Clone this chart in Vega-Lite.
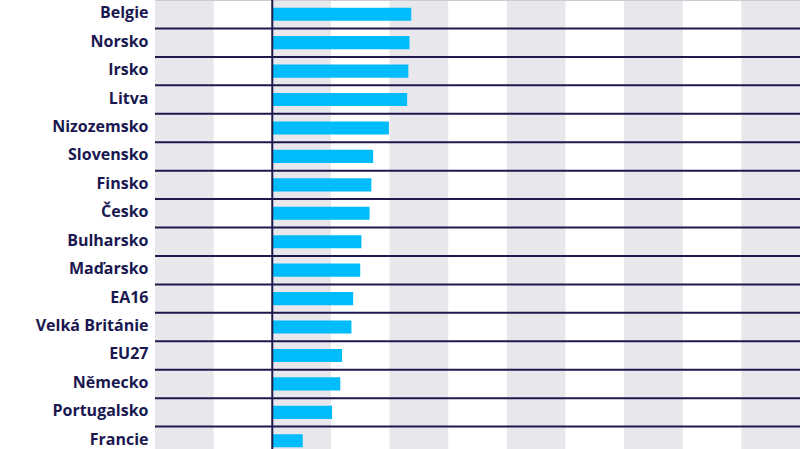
{
  "$schema": "https://vega.github.io/schema/vega-lite/v6.json",
  "width": 645,
  "height": 455,
  "autosize": {"type": "none"},
  "padding": {"left": 155, "top": 0, "right": 0, "bottom": 0},
  "background": "#ffffff",
  "config": {"view": {"stroke": null}},
  "datasets": {
    "bars": [
      {"zeme": "Belgie", "hodnota": 2.37},
      {"zeme": "Norsko", "hodnota": 2.34},
      {"zeme": "Irsko", "hodnota": 2.32},
      {"zeme": "Litva", "hodnota": 2.30},
      {"zeme": "Nizozemsko", "hodnota": 1.99},
      {"zeme": "Slovensko", "hodnota": 1.72},
      {"zeme": "Finsko", "hodnota": 1.69},
      {"zeme": "Česko", "hodnota": 1.66},
      {"zeme": "Bulharsko", "hodnota": 1.52},
      {"zeme": "Maďarsko", "hodnota": 1.50},
      {"zeme": "EA16", "hodnota": 1.38},
      {"zeme": "Velká Británie", "hodnota": 1.35},
      {"zeme": "EU27", "hodnota": 1.19},
      {"zeme": "Německo", "hodnota": 1.16},
      {"zeme": "Portugalsko", "hodnota": 1.02},
      {"zeme": "Francie", "hodnota": 0.52}
    ],
    "bands": [
      {"od": -2, "do": -1},
      {"od": 0, "do": 1},
      {"od": 2, "do": 3},
      {"od": 4, "do": 5},
      {"od": 6, "do": 7},
      {"od": 8, "do": 9}
    ]
  },
  "layer": [
    {
      "data": {"name": "bands"},
      "mark": {"type": "rect", "color": "#e7e7ec"},
      "encoding": {
        "x": {"field": "od", "type": "quantitative", "scale": {"domain": [-2, 9], "nice": false, "zero": false}, "axis": null},
        "x2": {"field": "do"}
      }
    },
    {
      "data": {"name": "bars"},
      "mark": {"type": "rule", "strokeWidth": 2},
      "encoding": {
        "y": {"field": "zeme", "type": "nominal", "sort": null, "bandPosition": 0},
        "color": {"condition": {"test": "datum.zeme === 'Belgie'", "value": "#cbcbd3"}, "value": "#1d1a4d"}
      }
    },
    {
      "data": {"name": "bars"},
      "mark": {"type": "bar", "color": "#00bcfa", "height": {"band": 0.46}},
      "encoding": {
        "y": {"field": "zeme", "type": "nominal", "sort": null,
              "scale": {"paddingInner": 0, "paddingOuter": 0},
              "axis": {"title": null, "domain": false, "ticks": false, "labelPadding": 7, "labelOffset": -1,
                       "labelFont": "Open Sans", "labelFontWeight": "bold", "labelFontSize": 16,
                       "labelColor": "#1a1850", "grid": false}},
        "x": {"field": "hodnota", "type": "quantitative"}
      }
    },
    {
      "data": {"values": [{}]},
      "mark": {"type": "rule", "color": "#1d1a4d", "strokeWidth": 2},
      "encoding": {"x": {"datum": 0}}
    }
  ]
}
